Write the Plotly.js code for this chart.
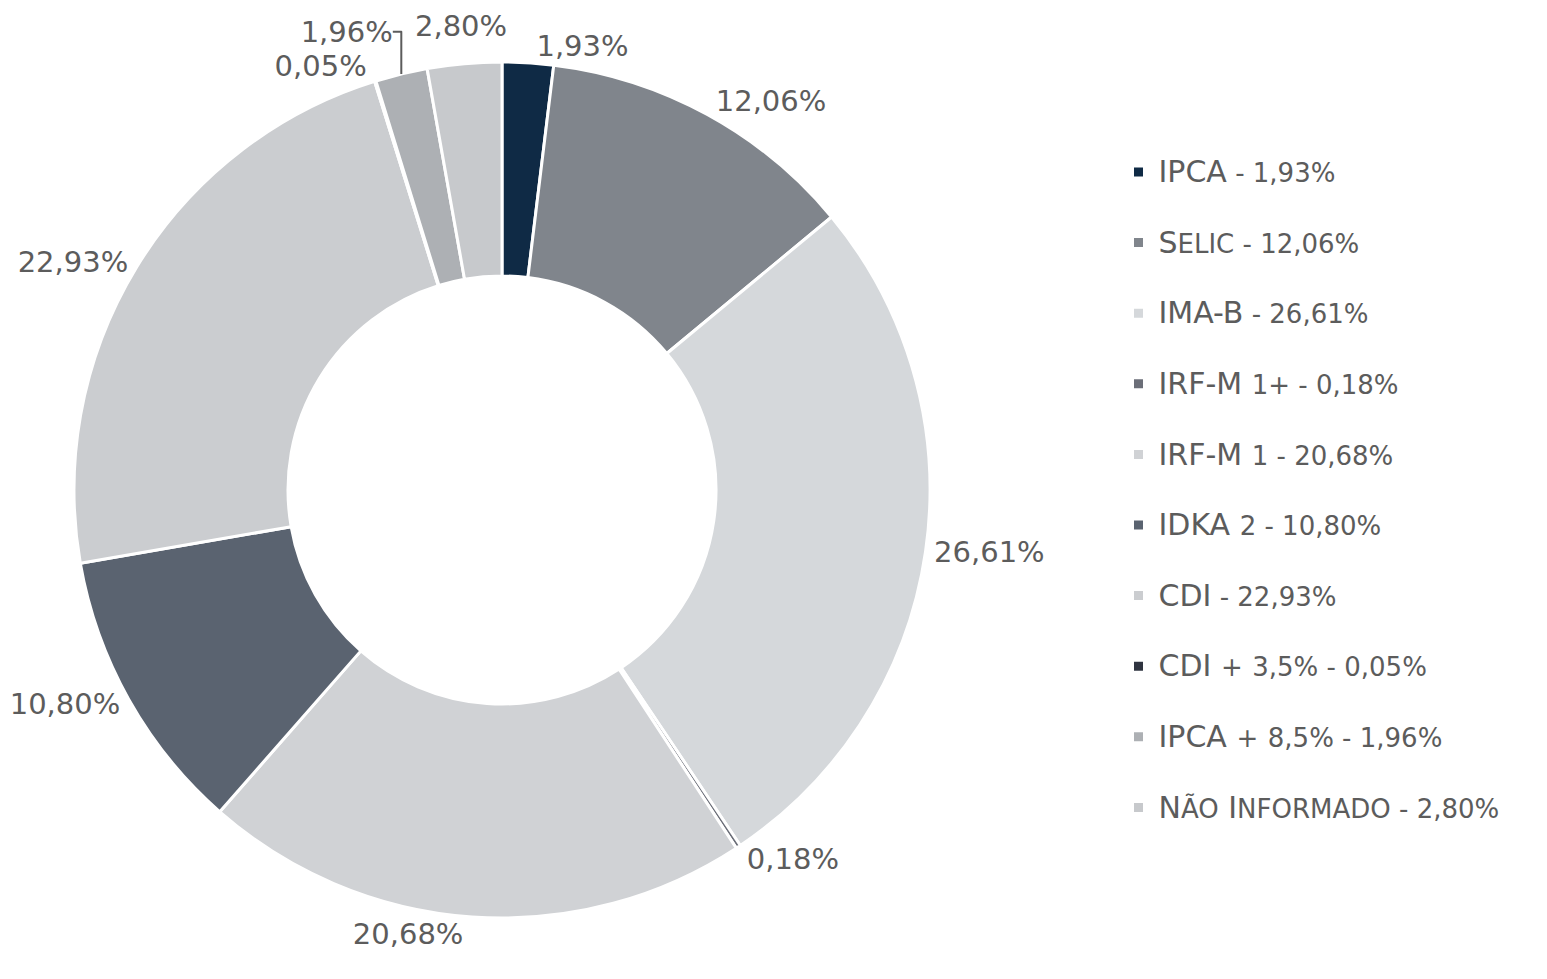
<!DOCTYPE html>
<html>
<head>
<meta charset="utf-8">
<script src="https://cdn.plot.ly/plotly-3.0.1.min.js"></script>
<style>html,body{margin:0;padding:0;background:#fff;}#chart{width:1547px;height:979px;}</style>
</head>
<body>
<div id="chart"></div>
<script>
// Data
const categories = ["IPCA", "Selic", "IMA-B", "IRF-M 1+", "IRF-M 1", "IDKA 2", "CDI", "CDI + 3,5%", "IPCA + 8,5%", "Não Informado"];
const values = [1.93, 12.06, 26.61, 0.18, 20.68, 10.80, 22.93, 0.05, 1.96, 2.80];
const colors = ["#0f2a45", "#80858c", "#d5d8db", "#6b6e78", "#d0d2d5", "#5a6370", "#cbcdd0", "#2f3440", "#adb0b4", "#c7c9cc"];
const smallCaps = [false, true, false, false, false, false, false, false, false, true];
// slice whose label is drawn as an annotation (would otherwise be pushed off the top)
const annotatedSlice = 9;

const FONT = "DejaVu Sans, sans-serif";
const TEXT_COLOR = "#5c5c5c";
const NAME_SIZE = 30, SMALL_SIZE = 26, PIE_LABEL_SIZE = 29;

function fmt(v) { return v.toFixed(2).replace(".", ",") + "%"; }
function styleName(name, sc) {
  return name.split(" ").map(p => {
    if (sc) {
      return p.charAt(0) + `<span style="font-size:${SMALL_SIZE}px">` + p.slice(1).toUpperCase() + "</span>";
    }
    if (/^[0-9+%,]+$/.test(p)) return `<span style="font-size:${SMALL_SIZE}px">` + p + "</span>";
    return p;
  }).join(" ");
}
const legendLabels = categories.map((c, i) =>
  `<span style="font-size:${NAME_SIZE}px">` + styleName(c, smallCaps[i]) + `</span><span style="font-size:${SMALL_SIZE}px"> - ${fmt(values[i])}</span><br> `
);

const W = 1547, H = 979;
const cx = 502, cy = 490, R = 428;

const templates = values.map((v, i) => i === annotatedSlice ? "" : "%{value:.2f}%");

const trace = {
  type: "pie",
  labels: legendLabels,
  values: values,
  sort: false,
  direction: "clockwise",
  rotation: 0,
  hole: 0.5,
  marker: { colors: colors, line: { color: "#ffffff", width: 3 } },
  textposition: "outside",
  texttemplate: templates,
  outsidetextfont: { size: PIE_LABEL_SIZE, color: TEXT_COLOR, family: FONT },
  domain: { x: [(cx - R) / W, (cx + R) / W], y: [1 - (cy + R) / H, 1 - (cy - R) / H] },
  automargin: false,
  hoverinfo: "percent"
};

// label of the annotated slice, placed at its mid-angle just outside the ring
const total = values.reduce((a, b) => a + b, 0);
const before = values.slice(0, annotatedSlice).reduce((a, b) => a + b, 0);
const theta = 2 * Math.PI * (before + values[annotatedSlice] / 2) / total;
const rl = R + 38;
const annX = cx + rl * Math.sin(theta);
const annY = cy - rl * Math.cos(theta);

const layout = {
  width: W, height: H,
  margin: { l: 0, r: 0, t: 0, b: 0 },
  paper_bgcolor: "#ffffff",
  separators: ",.",
  showlegend: true,
  legend: {
    x: 0.723, xanchor: "left",
    y: 0.482, yanchor: "middle",
    valign: "top",
    font: { family: FONT, size: 26, color: TEXT_COLOR },
    itemclick: false
  },
  annotations: [{
    xref: "paper", yref: "paper",
    x: annX / W, y: 1 - annY / H,
    xanchor: "center", yanchor: "middle",
    showarrow: false,
    text: fmt(values[annotatedSlice]),
    font: { family: FONT, size: PIE_LABEL_SIZE, color: TEXT_COLOR }
  }]
};

Plotly.newPlot("chart", [trace], layout, { displayModeBar: false, staticPlot: true });
</script>
</body>
</html>
